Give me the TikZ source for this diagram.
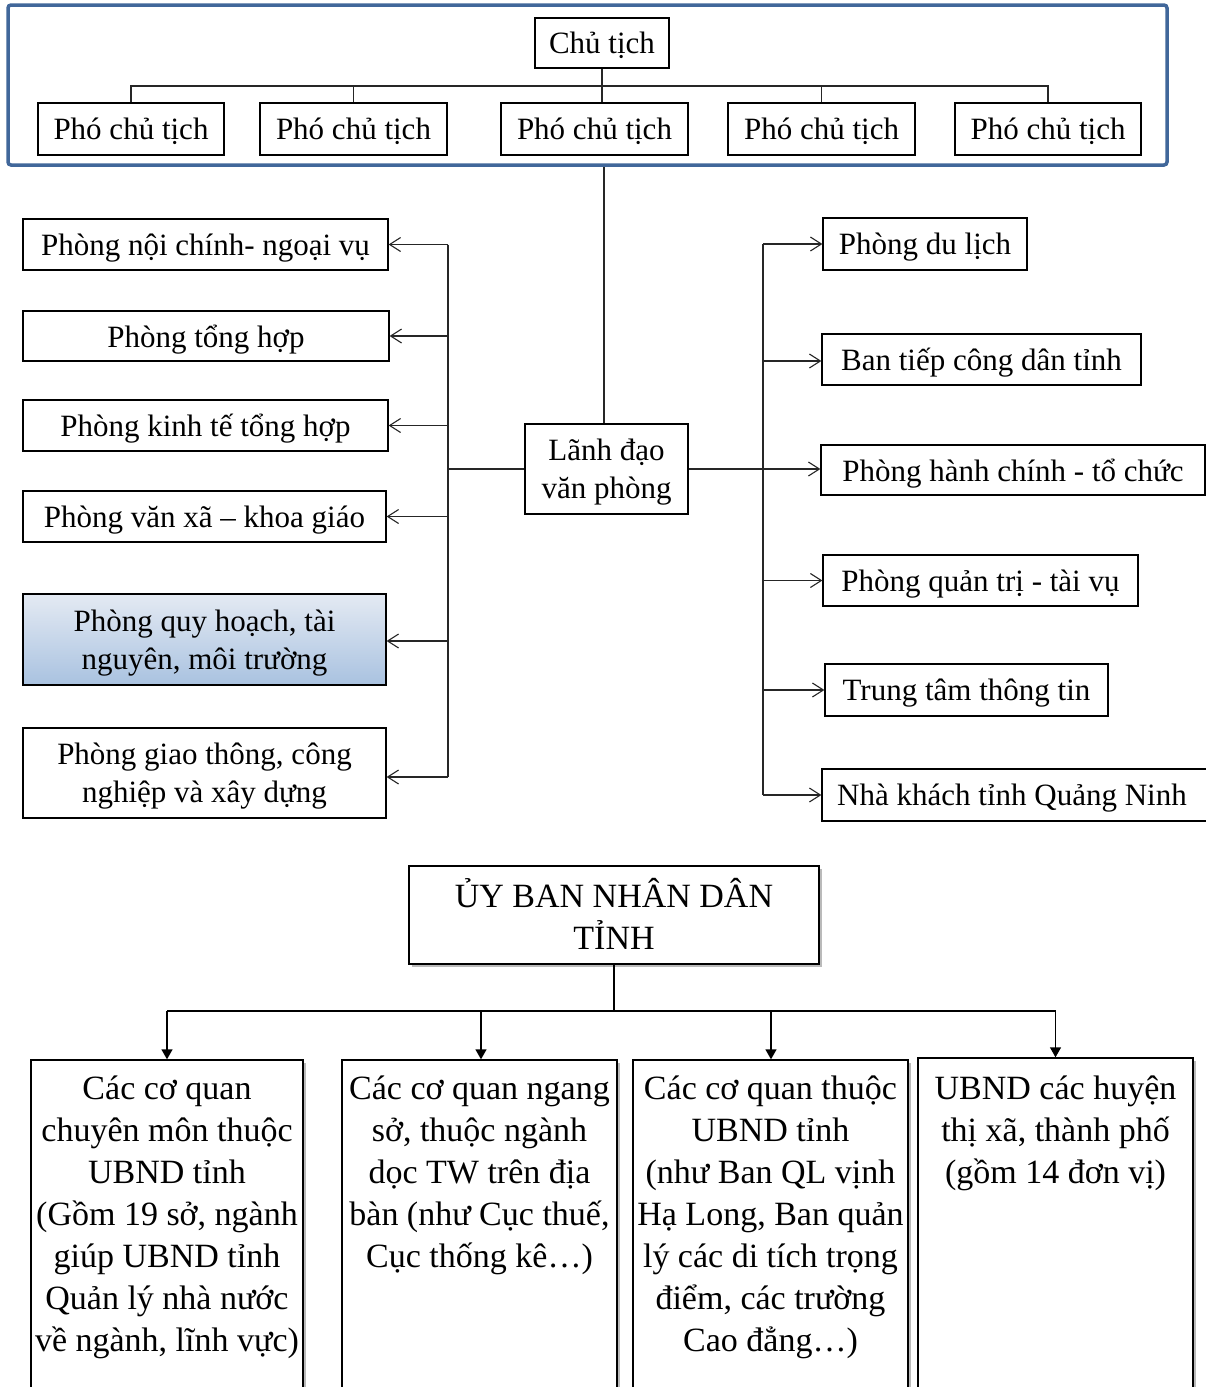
\documentclass[tikz,border=0pt]{standalone}
\usepackage{fontspec}
\setmainfont{Liberation Serif}
\usetikzlibrary{arrows.meta,shadows}

\definecolor{framecol}{HTML}{41679A}
\definecolor{linecol}{HTML}{262626}
\definecolor{fillTop}{HTML}{E4EAF3}
\definecolor{fillBot}{HTML}{A9C2E0}

\begin{document}
\begin{tikzpicture}[x=1pt,y=-1pt,
  box/.style={draw=black, line width=1.2pt, fill=white, inner sep=0pt, text depth=0pt,
    align=center, font=\fontsize{31}{38}\selectfont},
  bigbox/.style={draw=black, line width=1.4pt, fill=white, inner sep=0pt,
    drop shadow={shadow xshift=3pt, shadow yshift=-3pt, opacity=.45, fill=black!60}},
  bigtext/.style={inner sep=0pt, align=center, font=\fontsize{34}{42}\selectfont},
  link/.style={draw=linecol, line width=1.2pt},
  openarrow/.style={link, -{Straight Barb[length=11pt,width=14pt,line width=1.1pt]}},
  solidarrow/.style={draw=black, line width=1.4pt, -{Triangle[length=10pt,width=11pt]}},
]
\clip (0,0) rectangle (1206,1387);
\fill[white] (0,0) rectangle (1206,1387);

% ---- leadership frame ----
\node[draw=framecol, line width=3.5pt, rounded corners=3pt, minimum width=1159pt,
  minimum height=160pt, inner sep=0pt] (frame) at (587.5,85) {};

\node[box, minimum width=134pt, minimum height=50pt] (ct) at (602,43) {Chủ tịch};
\node[box, minimum width=186pt, minimum height=52pt] (pc1) at (131,129) {Phó chủ tịch};
\node[box, minimum width=187pt, minimum height=52pt] (pc2) at (353.5,129) {Phó chủ tịch};
\node[box, minimum width=187pt, minimum height=52pt] (pc3) at (594.5,129) {Phó chủ tịch};
\node[box, minimum width=187pt, minimum height=52pt] (pc4) at (821.5,129) {Phó chủ tịch};
\node[box, minimum width=186pt, minimum height=52pt] (pc5) at (1048,129) {Phó chủ tịch};

\coordinate (topbus) at (602,86);
\draw[link] (ct.south) -- (ct.south |- pc3.north);
\draw[link] (pc1.north) -- (pc1.north |- topbus) -- (pc5.north |- topbus) -- (pc5.north);
\draw[link] (pc2.north) -- (pc2.north |- topbus);
\draw[link] (pc4.north) -- (pc4.north |- topbus);

% ---- office leadership ----
\node[box, minimum width=163pt, minimum height=90pt] (lanh) at (606.5,469)
  {Lãnh đạo\\văn phòng};
\draw[link] (frame.south -| 604,0) -- (lanh.north -| 604,0);

% ---- left departments ----
\node[box, minimum width=365pt, minimum height=51pt] (l1) at (205.5,244.5) {Phòng nội chính- ngoại vụ};
\node[box, minimum width=366pt, minimum height=50pt] (l2) at (206,336) {Phòng tổng hợp};
\node[box, minimum width=365pt, minimum height=51pt] (l3) at (205.5,425.5) {Phòng kinh tế tổng hợp};
\node[box, minimum width=363pt, minimum height=51pt] (l4) at (204.5,516.5) {Phòng văn xã – khoa giáo};
\node[box, top color=fillTop, bottom color=fillBot, minimum width=363pt, minimum height=91pt]
  (l5) at (204.5,639.5) {Phòng quy hoạch, tài\\nguyên, môi trường};
\node[box, minimum width=363pt, minimum height=90pt] (l6) at (204.5,773)
  {Phòng giao thông, công\\nghiệp và xây dựng};

\coordinate (lbus) at (448,469);
\draw[link] (lanh.west) -- (lbus);
\draw[link] (lbus |- l1.east) -- (448,777);
\foreach \n in {l1,l2,l3,l4}
  \draw[openarrow] (lbus |- \n.east) -- (\n.east);
\draw[openarrow] (448,641) -- (l5.east |- 0,641);
\draw[openarrow] (448,777) -- (l6.east |- 0,777);

% ---- right departments ----
\node[box, minimum width=204pt, minimum height=52pt] (r1) at (925,244) {Phòng du lịch};
\node[box, minimum width=319pt, minimum height=51pt] (r2) at (981.5,359.5) {Ban tiếp công dân tỉnh};
\node[box, minimum width=384pt, minimum height=50pt] (r3) at (1013,470) {Phòng hành chính - tổ chức};
\node[box, minimum width=315pt, minimum height=51pt] (r4) at (980.5,580.5) {Phòng quản trị - tài vụ};
\node[box, minimum width=283pt, minimum height=52pt] (r5) at (966.5,690) {Trung tâm thông tin};
\node[box, minimum width=390pt, minimum height=52pt] (r6) at (1017,795) {Nhà khách tỉnh Quảng Ninh\hspace*{10pt}};

\coordinate (rbus) at (763,469);
\draw[link] (lanh.east) -- (rbus);
\draw[link] (rbus |- r1.west) -- (rbus |- r6.west);
\foreach \n in {r1,r4,r5,r6}
  \draw[openarrow] (rbus |- \n.west) -- (\n.west);
\draw[openarrow] (763,361) -- (r2.west |- 0,361);
\draw[openarrow] (rbus) -- (r3.west |- rbus);

% ---- provincial people's committee ----
\node[bigbox, minimum width=410pt, minimum height=98pt] (uy) at (614,915) {};
\node[bigtext] (uyt) at ([yshift=1.5pt]uy.center) {ỦY BAN NHÂN DÂN\\TỈNH};

\node[bigbox, minimum width=272pt, minimum height=340pt] (b1) at (167,1230) {};
\node[bigbox, minimum width=275pt, minimum height=340pt] (b2) at (479.5,1230) {};
\node[bigbox, minimum width=275pt, minimum height=340pt] (b3) at (770.5,1230) {};
\node[bigbox, minimum width=275pt, minimum height=342pt] (b4) at (1055.5,1229) {};

\node[bigtext, anchor=north, yshift=-16pt] (b1t) at (b1.north)
  {Các cơ quan\\chuyên môn thuộc\\UBND tỉnh\\(Gồm 19 sở, ngành\\giúp UBND tỉnh\\Quản lý nhà nước\\về ngành, lĩnh vực)};
\node[bigtext, anchor=north, yshift=-16pt] (b2t) at (b2.north)
  {Các cơ quan ngang\\sở, thuộc ngành\\dọc TW trên địa\\bàn (như Cục thuế,\\Cục thống kê…)};
\node[bigtext, anchor=north, yshift=-16pt] (b3t) at (b3.north)
  {Các cơ quan thuộc\\UBND tỉnh\\(như Ban QL vịnh\\Hạ Long, Ban quản\\lý các di tích trọng\\điểm, các trường\\Cao đẳng…)};
\node[bigtext, anchor=north, yshift=-18pt] (b4t) at (b4.north)
  {UBND các huyện\\thị xã, thành phố\\(gồm 14 đơn vị)};

\coordinate (bbus) at (614,1011);
\draw[draw=black, line width=2.4pt] (uy.south) -- (bbus);
\draw[draw=black, line width=1.6pt] (b1.north |- bbus) -- (b4.north |- bbus);
\draw[solidarrow] (b1.north |- bbus) -- (b1.north);
\draw[solidarrow] (481,1011) -- (b2.north -| 481,0);
\draw[solidarrow] (771,1011) -- (b3.north -| 771,0);
\draw[solidarrow] (b4.north |- bbus) -- (b4.north);
\end{tikzpicture}
\end{document}
